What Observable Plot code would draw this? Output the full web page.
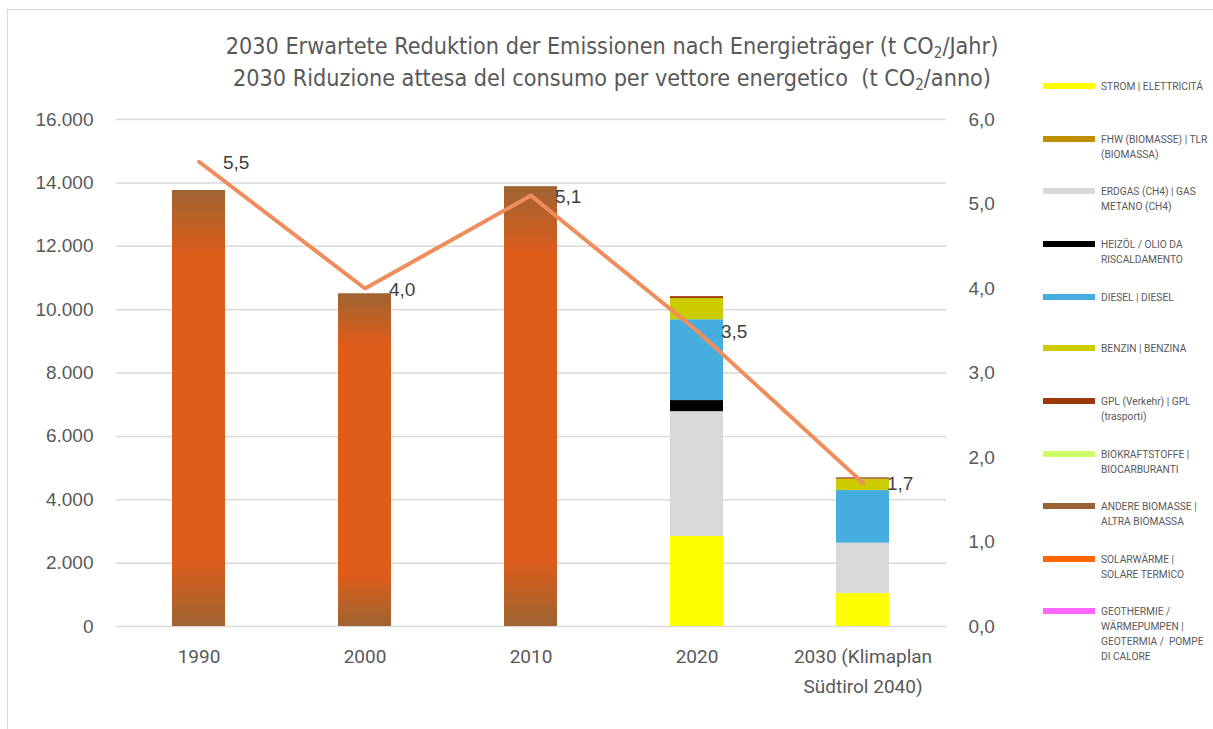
<!DOCTYPE html>
<html>
<head>
<meta charset="utf-8">
<script src="https://cdn.jsdelivr.net/npm/d3@7"></script>
<script src="https://cdn.jsdelivr.net/npm/@observablehq/plot@0.6"></script>
<style>
  html, body { margin: 0; padding: 0; background: #fff; }
  #wrap { position: relative; width: 1213px; height: 729px; overflow: hidden; }
  #frame { position: absolute; left: 7px; top: 9px; width: 1210px; height: 730px; border: 1px solid #d9d9d9; box-sizing: border-box; }
  #title { position: absolute; left: 0; top: 30px; width: 1224px; text-align: center;
           font-family: "Liberation Sans Narrow", "DejaVu Sans Condensed", "Roboto", sans-serif;
           font-size: 23.2px; line-height: 32px; color: #595959; }
  #title sub { font-size: 15px; vertical-align: -4px; line-height: 0; }
  #legend { position: absolute; left: 0; top: 0; width: 1213px; height: 729px; pointer-events: none; }
  .li { position: absolute; left: 1043px; width: 170px; }
  .sw { position: absolute; left: 0; top: -3px; width: 52px; height: 6px; }
  .lt { position: absolute; left: 58px; top: -7px; width: 112px; font-family: "Roboto", "Liberation Sans", sans-serif;
        font-size: 10.2px; line-height: 15px; color: #595959; white-space: pre; }
  #chart { position: absolute; left: 0; top: 0; }
</style>
</head>
<body>
<div id="wrap">
  <div id="frame"></div>
  <div id="chart"></div>
  <div id="title">2030 Erwartete Reduktion der Emissionen nach Energieträger (t CO<sub>2</sub>/Jahr)<br>2030 Riduzione attesa del consumo per vettore energetico &nbsp;(t CO<sub>2</sub>/anno)</div>
  <div id="legend"></div>
</div>
<script>
// ---- data ----
const years = ["1990", "2000", "2010", "2020", "2030 (Klimaplan Südtirol 2040)"];

const seriesNames = [
  "Gesamt (historisch)",
  "STROM | ELETTRICITÁ",
  "FHW (BIOMASSE) | TLR (BIOMASSA)",
  "ERDGAS (CH4) | GAS METANO (CH4)",
  "HEIZÖL / OLIO DA RISCALDAMENTO",
  "DIESEL | DIESEL",
  "BENZIN | BENZINA",
  "GPL (Verkehr) | GPL (trasporti)",
  "BIOKRAFTSTOFFE | BIOCARBURANTI",
  "ANDERE BIOMASSE | ALTRA BIOMASSA",
  "SOLARWÄRME | SOLARE TERMICO",
  "GEOTHERMIE / WÄRMEPUMPEN | GEOTERMIA /  POMPE DI CALORE"
];
// legend labels with the line breaks of the reference
const legendLabels = [
  "STROM | ELETTRICITÁ",
  "FHW (BIOMASSE) | TLR\n(BIOMASSA)",
  "ERDGAS (CH4) | GAS\nMETANO (CH4)",
  "HEIZÖL / OLIO DA\nRISCALDAMENTO",
  "DIESEL | DIESEL",
  "BENZIN | BENZINA",
  "GPL (Verkehr) | GPL\n(trasporti)",
  "BIOKRAFTSTOFFE |\nBIOCARBURANTI",
  "ANDERE BIOMASSE |\nALTRA BIOMASSA",
  "SOLARWÄRME |\nSOLARE TERMICO",
  "GEOTHERMIE /\nWÄRMEPUMPEN |\nGEOTERMIA /  POMPE\nDI CALORE"
];
const seriesColors = [
  "url(#histGrad)",
  "#FFFF00", "#BF8F00", "#D9D9D9", "#000000", "#45AEDF", "#CCCC00",
  "#9C3A0E", "#CCFF66", "#9A6134", "#FF6600", "#FF66FF"
];

const historic    = [13760, 10500, 13880, 0, 0];
const strom       = [0, 0, 0, 2840, 1040];
const fhw         = [0, 0, 0, 0, 0];
const erdgas      = [0, 0, 0, 3940, 1590];
const heizoel     = [0, 0, 0, 350, 0];
const diesel      = [0, 0, 0, 2550, 1660];
const benzin      = [0, 0, 0, 670, 360];
const gpl         = [0, 0, 0, 60, 40];
const biokraft    = [0, 0, 0, 0, 0];
const andereBio   = [0, 0, 0, 0, 0];
const solar       = [0, 0, 0, 0, 0];
const geothermie  = [0, 0, 0, 0, 0];

const co2Line = [5.5, 4.0, 5.1, 3.5, 1.7];   // right axis

const leftTicks = [0, 2000, 4000, 6000, 8000, 10000, 12000, 14000, 16000];
const rightTicks = [0, 1, 2, 3, 4, 5, 6];
const leftMax = 16000, rightMax = 6;

// ---- build table ----
const seriesValues = [historic, strom, fhw, erdgas, heizoel, diesel, benzin, gpl, biokraft, andereBio, solar, geothermie];
const table = [];
years.forEach((yr, i) => {
  seriesValues.forEach((vals, s) => {
    if (vals[i] > 0) table.push({year: yr, series: seriesNames[s], value: vals[i]});
  });
});
const lineData = years.map((yr, i) => ({year: yr, value: co2Line[i]}));

const toLeft = v => v / rightMax * leftMax;
const fmtLeft = d => d3.format(",")(d).replace(/,/g, ".");
const fmtRight = d => (d / leftMax * rightMax).toFixed(1).replace(".", ",");
const fmtX = d => d.startsWith("2030") ? "2030 (Klimaplan\nSüdtirol 2040)" : d;

const chart = Plot.plot({
  width: 1213,
  height: 729,
  marginTop: 119,
  marginBottom: 103,
  marginLeft: 116,
  marginRight: 267,
  style: {fontFamily: "'Liberation Sans', Arial, sans-serif", background: "transparent"},
  x: {domain: years, paddingInner: 0.68, paddingOuter: 0.34, label: null},
  y: {domain: [0, leftMax], label: null},
  color: {domain: seriesNames, range: seriesColors},
  marks: [
    Plot.gridY(leftTicks, {stroke: "#d9d9d9", strokeOpacity: 1, strokeWidth: 1.5}),
    Plot.barY(table, {x: "year", y: "value", fill: "series", order: null}),
    Plot.line(lineData, {x: "year", y: d => toLeft(d.value), stroke: "#F08D5C", strokeWidth: 4, strokeLinecap: "round", strokeLinejoin: "round"}),
    Plot.text(lineData, {x: "year", y: d => toLeft(d.value), text: d => d.value.toFixed(1).replace(".", ","), dx: 24, dy: 1, textAnchor: "start", fontSize: 19, fill: "#404040"}),
    Plot.axisY({ticks: leftTicks, tickFormat: fmtLeft, tickSize: 0, tickPadding: 23, fontSize: 19, color: "#595959", label: null}),
    Plot.axisY({anchor: "right", ticks: rightTicks.map(toLeft), tickFormat: fmtRight, tickSize: 0, tickPadding: 22, fontSize: 19, color: "#595959", label: null}),
    Plot.axisX({tickSize: 0, tickPadding: 16, tickFormat: fmtX, fontSize: 19, color: "#595959", lineHeight: 1.55, label: null, fontFamily: "Roboto, 'Liberation Sans', sans-serif"})
  ]
});

// gradient for historic totals
const ns = "http://www.w3.org/2000/svg";
const defs = document.createElementNS(ns, "defs");
const grad = document.createElementNS(ns, "linearGradient");
grad.setAttribute("id", "histGrad");
grad.setAttribute("x1", "0"); grad.setAttribute("y1", "0");
grad.setAttribute("x2", "0"); grad.setAttribute("y2", "1");
[["0%", "#9E6432"], ["16%", "#E05C1A"], ["84%", "#E05C1A"], ["100%", "#9E6432"]].forEach(([o, c]) => {
  const st = document.createElementNS(ns, "stop");
  st.setAttribute("offset", o); st.setAttribute("stop-color", c);
  grad.appendChild(st);
});
defs.appendChild(grad);
chart.insertBefore(defs, chart.firstChild);
document.getElementById("chart").appendChild(chart);

// legend (HTML)
const legendTops = [86, 139, 191, 244, 297, 348, 401, 454, 506, 559, 611];
const leg = document.getElementById("legend");
legendLabels.forEach((label, i) => {
  const item = document.createElement("div");
  item.className = "li";
  item.style.top = legendTops[i] + "px";
  const sw = document.createElement("div");
  sw.className = "sw";
  sw.style.background = seriesColors[i + 1];
  const tx = document.createElement("div");
  tx.className = "lt";
  tx.textContent = label;
  item.appendChild(sw); item.appendChild(tx);
  leg.appendChild(item);
});
</script>
</body>
</html>
